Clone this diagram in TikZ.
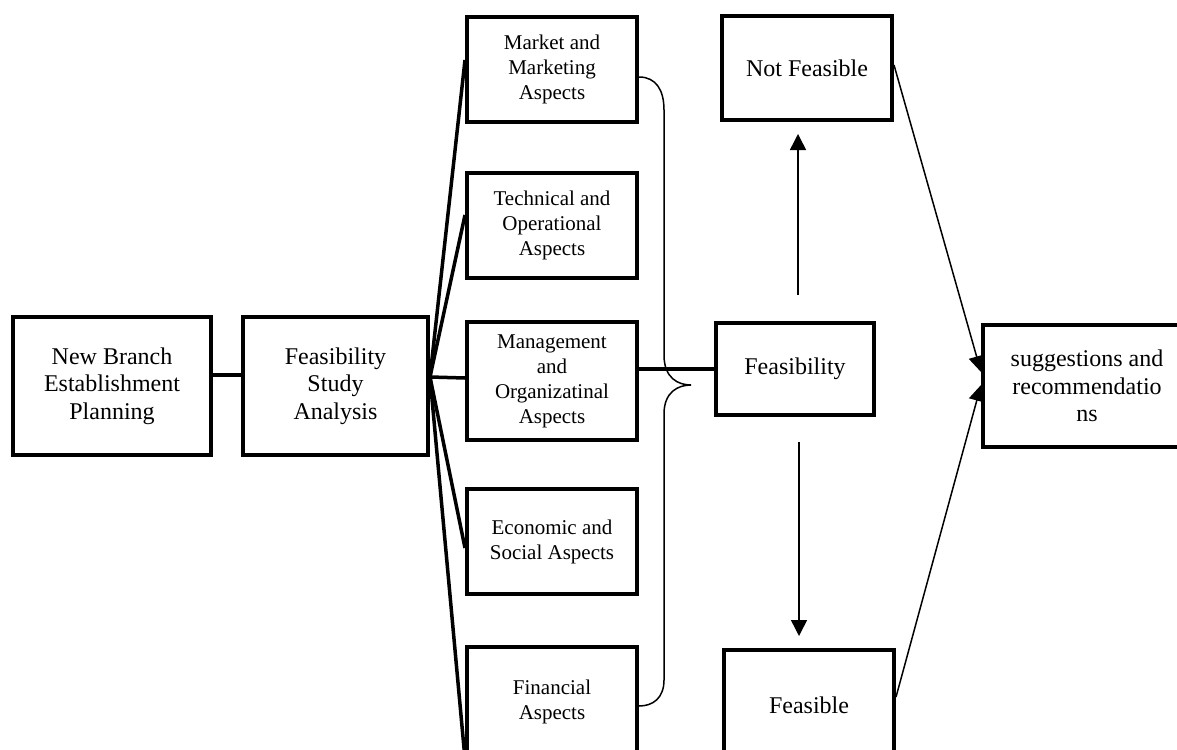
\documentclass[tikz,border=0pt]{standalone}
\usepackage{fontspec}
\setmainfont{Liberation Serif}
\usetikzlibrary{arrows.meta,calc}
\begin{document}
\begin{tikzpicture}[x=0.5pt, y=-0.5pt, line join=miter]
   \useasboundingbox (0,0) rectangle (1177,749);
   \begin{scope}[every node/.style={draw, line width=2pt, inner sep=0pt, align=center, font=\fontsize{12}{13.75}\selectfont}]
    \node[minimum width=99pt, minimum height=69pt] (plan) at (112,386) {New Branch\\Establishment\\Planning};
    \node[minimum width=92.5pt, minimum height=69pt] (study) at (335.5,386) {Feasibility\\Study\\Analysis};
    \node[minimum width=85pt, minimum height=52pt] (notf) at (807,68) {Not Feasible};
    \node[minimum width=79pt, minimum height=46pt] (feas) at (795,369) {Feasibility};
    \node[minimum width=85pt, minimum height=55pt] (fsbl) at (809,705) {Feasible};
    \node[minimum width=104pt, minimum height=61pt] (sug) at (1087,386) {suggestions and\\recommendatio\\ns};
   \end{scope}
   \begin{scope}[every node/.style={draw, line width=2pt, inner sep=0pt, align=center, minimum width=85pt, font=\fontsize{10.5}{12.5}\selectfont}]
    \node[minimum height=52.5pt] (mkt) at (552,69.5) {Market and\\Marketing\\Aspects};
    \node[minimum height=52.5pt] (tech) at (552,225.5) {Technical and\\Operational\\Aspects};
    \node[minimum height=59pt] (mgmt) at (552,381) {Management\\and\\Organizatinal\\Aspects};
    \node[minimum height=52.5pt] (econ) at (552,541.5) {Economic and\\Social Aspects};
    \node[minimum height=55pt] (fin) at (552,702) {Financial\\Aspects};
   \end{scope}
   \begin{scope}[every edge/.style={draw=black, line width=1.75pt}]
    \coordinate (hub) at ([yshift=4.5pt]study.east);
    \draw ([yshift=5.5pt]plan.east) edge ([yshift=5.5pt]study.west);
    \draw (hub) edge ([yshift=4.75pt]mkt.west);
    \draw (hub) edge ([yshift=5.25pt]tech.west);
    \draw (hub) edge ([yshift=1.5pt]mgmt.west);
    \draw (hub) edge ([yshift=-3.25pt]econ.west);
    \draw (hub) edge (fin.south west);
    \draw ([yshift=6pt]mgmt.east) edge (feas.west);
   \end{scope}
   % brace
   \draw[line width=0.75pt] ([yshift=-3.75pt]mkt.east) .. controls (656,77) and (664,90) .. (664,110) -- (664,355)
      .. controls (664,378) and (678,385) .. (691,385)
      .. controls (678,385) and (664,392) .. (664,414) -- (664,680)
      .. controls (664,698) and (653,706) .. ([yshift=-2pt]fin.east);
   \begin{scope}[line width=0.75pt, -{Triangle[length=8pt,width=8pt]}]
    \draw ($(feas.north)+(3,-26)$) -- ($(feas.north |- notf.south)+(3,12)$);
    \draw ($(feas.south)+(4,25)$) -- ($(feas.south |- fsbl.north)+(4,-12)$);
    \draw ([yshift=1.5pt]notf.east) -- ([yshift=7pt]sug.west);
    \draw ([yshift=4pt]fsbl.east) -- ([yshift=0.5pt]sug.west);
   \end{scope}
\end{tikzpicture}
\end{document}
